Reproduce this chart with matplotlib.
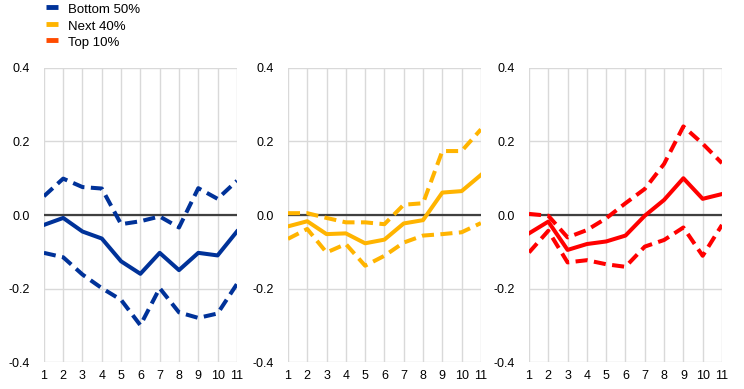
import numpy as np
import matplotlib
matplotlib.use("Agg")
import matplotlib.pyplot as plt

plt.rcParams['font.family'] = ['Liberation Sans', 'DejaVu Sans']

periods = list(range(1, 12))

# Bottom 50%
bottom_mid = [-0.027, -0.008, -0.045, -0.064, -0.126, -0.160, -0.103, -0.150, -0.103, -0.110, -0.045]
bottom_hi = [0.051, 0.099, 0.076, 0.072, -0.025, -0.017, -0.004, -0.034, 0.073, 0.044, 0.093]
bottom_lo = [-0.103, -0.115, -0.162, -0.199, -0.231, -0.300, -0.199, -0.265, -0.280, -0.268, -0.188]

# Next 40%
next_mid = [-0.031, -0.017, -0.052, -0.050, -0.077, -0.067, -0.023, -0.014, 0.061, 0.065, 0.109]
next_hi = [0.005, 0.005, -0.008, -0.020, -0.020, -0.025, 0.028, 0.032, 0.174, 0.174, 0.233]
next_lo = [-0.065, -0.038, -0.102, -0.079, -0.138, -0.111, -0.075, -0.056, -0.052, -0.047, -0.022]

# Top 10%
top_mid = [-0.050, -0.018, -0.095, -0.079, -0.072, -0.056, -0.002, 0.041, 0.100, 0.044, 0.057]
top_hi = [0.003, -0.002, -0.061, -0.041, -0.009, 0.032, 0.071, 0.139, 0.241, 0.194, 0.141]
top_lo = [-0.102, -0.043, -0.129, -0.123, -0.134, -0.141, -0.086, -0.068, -0.034, -0.111, -0.027]

groups = ["Bottom 50%", "Next 40%", "Top 10%"]
line_colors = ["#003299", "#FFB400", "#FF0000"]
legend_colors = ["#003299", "#FFB400", "#FF4B00"]
series = [(bottom_mid, bottom_hi, bottom_lo),
          (next_mid, next_hi, next_lo),
          (top_mid, top_hi, top_lo)]

fig = plt.figure(figsize=(7.44, 3.89), dpi=100)
lefts = [0.059, 0.387, 0.711]
w, b, h = 0.2594, 0.0694, 0.7558

for i, (mid, hi, lo) in enumerate(series):
    ax = fig.add_axes([lefts[i], b, w, h])
    c = line_colors[i]
    ax.axhline(0, color="#404040", lw=1.6, zorder=2)
    ax.plot(periods, mid, color=c, lw=2.9, zorder=3)
    ax.plot(periods, hi, color=c, lw=2.9, ls=(0, (3, 1.6)), zorder=3)
    ax.plot(periods, lo, color=c, lw=2.9, ls=(0, (3, 1.6)), zorder=3)
    ax.set_xlim(1, 11)
    ax.set_ylim(-0.4, 0.4)
    ax.set_xticks(periods)
    ax.set_yticks([-0.4, -0.2, 0.0, 0.2, 0.4])
    ax.set_yticklabels(["-0.4", "-0.2", "0.0", "0.2", "0.4"])
    ax.grid(True, color="#d9d9d9", lw=1)
    ax.set_axisbelow(True)
    for s in ax.spines.values():
        s.set_visible(False)
    ax.tick_params(length=0, labelsize=9, colors="#000000")
    ax.tick_params(axis='y', pad=10)
    ax.tick_params(axis='x', pad=6)

# legend
for j, (g, lc) in enumerate(zip(groups, legend_colors)):
    y_txt = 1 - (10 + 16.5 * j) / 389
    y_key = 1 - (7 + 16.5 * j) / 389
    fig.add_artist(plt.Line2D([46 / 744, 58 / 744], [y_key, y_key], color=lc, lw=3.5, solid_capstyle='butt'))
    fig.text(68 / 744, y_txt, g, fontsize=9.5, va="center", ha="left")

fig.savefig("out.png", dpi=100)
